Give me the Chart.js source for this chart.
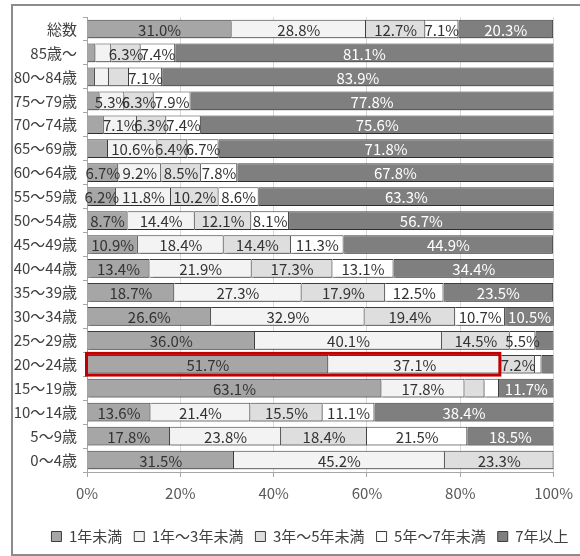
<!DOCTYPE html>
<html lang="ja">

<head>
  <meta charset="UTF-8">
  <title>勤続年数別の構成比</title>
  <style>
    body {
      margin: 0;
      background: #ffffff;
      overflow: hidden;
    }

    .wrap {
      position: relative;
      width: 580px;
      height: 556px;
      overflow: hidden;
    }

    /* outer frame of the chart, right side runs off the picture */
    .frame {
      position: absolute;
      left: 11px;
      top: 4px;
      width: 620px;
      height: 548px;
      border: 2px solid #8c8c8c;
    }

    canvas {
      position: absolute;
      left: 0;
      top: 0;
    }
  </style>
  <script src="https://cdn.jsdelivr.net/npm/chart.js"></script>
</head>

<body>
  <div class="wrap">
    <div class="frame"></div>
    <canvas id="chart" width="580" height="556"></canvas>
  </div>

  <script>
    // categories, top to bottom
    const ageLabels = ['総数', '85歳～', '80～84歳', '75～79歳', '70～74歳', '65～69歳', '60～64歳',
      '55～59歳', '50～54歳', '45～49歳', '40～44歳', '35～39歳', '30～34歳', '25～29歳',
      '20～24歳', '15～19歳', '10～14歳', '5～9歳', '0～4歳'];

    // shares in percent per series
    const under1 = [31.0, 1.8, 1.7, 2.7, 3.6, 4.5, 6.7, 6.2, 8.7, 10.9, 13.4, 18.7, 26.6, 36.0, 51.7, 63.1, 13.6, 17.8, 31.5];
    const y1to3 = [28.8, 3.4, 3.0, 5.3, 7.1, 10.6, 9.2, 11.8, 14.4, 18.4, 21.9, 27.3, 32.9, 40.1, 37.1, 17.8, 21.4, 23.8, 45.2];
    const y3to5 = [12.7, 6.3, 4.3, 6.3, 6.3, 6.4, 8.5, 10.2, 12.1, 14.4, 17.3, 17.9, 19.4, 14.5, 7.2, 4.3, 15.5, 18.4, 23.3];
    const y5to7 = [7.1, 7.4, 7.1, 7.9, 7.4, 6.7, 7.8, 8.6, 8.1, 11.3, 13.1, 12.5, 10.7, 5.5, 1.4, 3.1, 11.1, 21.5, 0];
    const over7 = [20.3, 81.1, 83.9, 77.8, 75.6, 71.8, 67.8, 63.3, 56.7, 44.9, 34.4, 23.5, 10.5, 3.9, 2.6, 11.7, 38.4, 18.5, 0];

    const seriesNames = ['1年未満', '1年～3年未満', '3年～5年未満', '5年～7年未満', '7年以上'];
    const xTicks = [0, 20, 40, 60, 80, 100];

    // row framed in red and how many segments the frame covers
    const highlightRow = '20～24歳';
    const highlightSegments = 2;

    const fills = ['#a6a6a6', '#f3f3f3', '#dedede', '#ffffff', '#7f7f7f'];
    const labelColors = ['#333333', '#333333', '#333333', '#333333', '#ffffff'];
    const fontFamily = "'Noto Sans CJK JP', sans-serif";

    Chart.defaults.font.family = fontFamily;
    Chart.defaults.font.size = 15;
    Chart.defaults.color = '#404040';

    const seriesData = [under1, y1to3, y3to5, y5to7, over7];

    // soft shadow under the bars, like the original
    const barShadow = {
      id: 'barShadow',
      beforeDatasetsDraw(chart) {
        const ctx = chart.ctx;
        ctx.save();
        ctx.shadowColor = 'rgba(0, 0, 0, 0.25)';
        ctx.shadowOffsetY = 2.5;
        ctx.shadowBlur = 1.5;
      },
      afterDatasetsDraw(chart) {
        chart.ctx.restore();
      }
    };

    // percent labels inside the segments
    const segmentLabels = {
      id: 'segmentLabels',
      afterDatasetsDraw(chart) {
        const ctx = chart.ctx;
        ctx.save();
        ctx.font = '15px ' + fontFamily;
        ctx.textAlign = 'center';
        ctx.textBaseline = 'middle';
        chart.data.datasets.forEach((ds, i) => {
          const meta = chart.getDatasetMeta(i);
          meta.data.forEach((bar, j) => {
            const v = ds.data[j];
            if (v < 5) return;
            const p = bar.getCenterPoint();
            ctx.fillStyle = labelColors[i];
            ctx.fillText(v.toFixed(1) + '%', p.x, p.y + 1);
          });
        });
        ctx.restore();
      }
    };

    // red frame around the first segments of one row
    const highlightBox = {
      id: 'highlightBox',
      afterDraw(chart) {
        const row = ageLabels.indexOf(highlightRow);
        const xs = chart.scales.x;
        let end = 0;
        for (let i = 0; i < highlightSegments; i++) end += seriesData[i][row];
        const bar = chart.getDatasetMeta(0).data[row];
        const x0 = xs.getPixelForValue(0);
        const x1 = xs.getPixelForValue(end);
        const ctx = chart.ctx;
        ctx.save();
        ctx.strokeStyle = '#c00000';
        ctx.lineWidth = 3;
        ctx.strokeRect(x0 - 0.5, bar.y - bar.height / 2 - 1.5, x1 - x0 - 1, bar.height + 3);
        ctx.restore();
      }
    };

    // the legend sits a bit right of the canvas centre in the original
    const legendShift = {
      id: 'legendShift',
      afterLayout(chart) {
        chart.legend.left += 14;
        chart.legend.right += 14;
      }
    };

    new Chart(document.getElementById('chart'), {
      type: 'bar',
      data: {
        labels: ageLabels,
        datasets: seriesData.map((d, i) => ({
          label: seriesNames[i],
          data: d,
          backgroundColor: fills[i],
          borderColor: '#3c3c3c',
          borderWidth: 1,
          categoryPercentage: 1,
          barPercentage: 0.78
        }))
      },
      options: {
        indexAxis: 'y',
        responsive: false,
        animation: false,
        layout: {
          padding: { left: 12, right: 0, top: 17, bottom: 2 }
        },
        scales: {
          x: {
            stacked: true,
            min: 0,
            max: 100,
            afterBuildTicks(scale) {
              scale.ticks = xTicks.map(v => ({ value: v }));
            },
            afterFit(scale) {
              scale.height = 45;
            },
            ticks: {
              color: '#595959',
              padding: 7,
              callback: v => v + '%'
            },
            grid: {
              color: '#d9d9d9',
              tickColor: '#a6a6a6',
              tickLength: 5
            },
            border: { color: '#a6a6a6' }
          },
          y: {
            stacked: true,
            afterFit(scale) {
              scale.width = 75;
            },
            ticks: {
              color: '#404040',
              padding: 6,
              autoSkip: false
            },
            grid: {
              drawOnChartArea: false,
              color: '#a6a6a6',
              tickLength: 4
            },
            border: { color: '#a6a6a6' }
          },
          // empty gutter on the right of the plot
          gutter: {
            type: 'linear',
            position: 'right',
            ticks: { display: false },
            grid: { display: false },
            border: { display: false },
            afterFit(scale) {
              scale.width = 25;
            }
          }
        },
        plugins: {
          legend: {
            position: 'bottom',
            labels: {
              boxWidth: 10,
              boxHeight: 10,
              padding: 12,
              color: '#404040',
              font: { size: 15 }
            }
          },
          tooltip: { enabled: false }
        }
      },
      plugins: [barShadow, segmentLabels, highlightBox, legendShift]
    });
  </script>
</body>

</html>
